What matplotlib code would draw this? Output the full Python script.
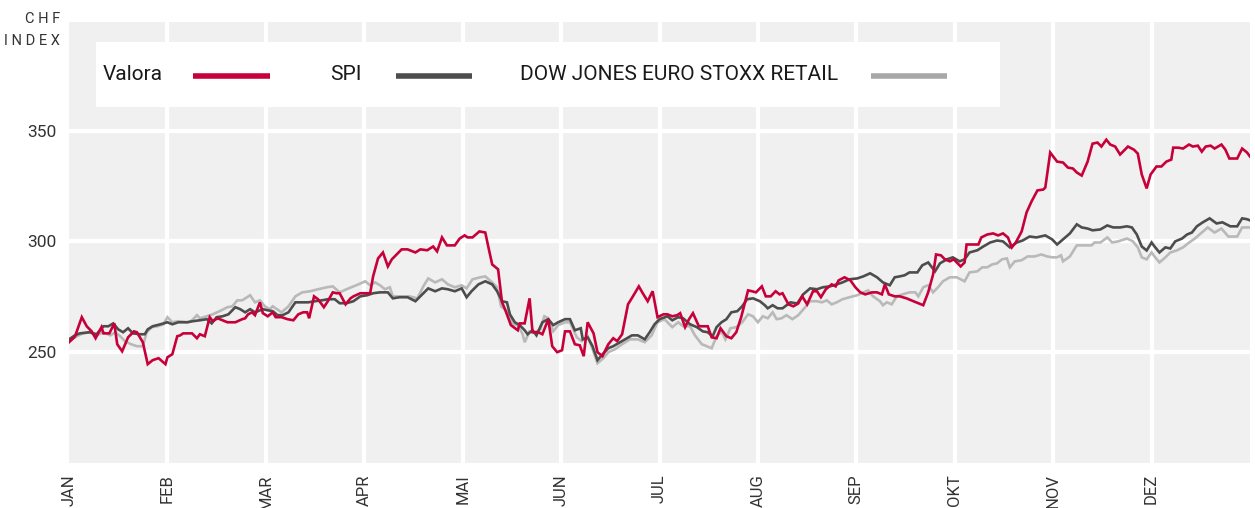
import numpy as np
import matplotlib
matplotlib.use("Agg")
import matplotlib.pyplot as plt
from matplotlib.patches import Rectangle
from matplotlib.lines import Line2D

plt.rcParams['font.family'] = ['Roboto', 'DejaVu Sans']

months = ['JAN', 'FEB', 'MAR', 'APR', 'MAI', 'JUN', 'JUL', 'AUG', 'SEP', 'OKT', 'NOV', 'DEZ']

# Valora (Position in Monaten ab 1. Januar, Indexwert)
valora_t = [0.00, 0.06, 0.13, 0.18, 0.23, 0.27, 0.33, 0.35, 0.41, 0.46, 0.49, 0.54, 0.60, 0.66, 0.69,
            0.75, 0.80, 0.85, 0.91, 0.98, 1.00, 1.05, 1.10, 1.13, 1.16, 1.25, 1.30, 1.33, 1.38, 1.43,
            1.46, 1.51, 1.61, 1.69, 1.76, 1.79, 1.82, 1.86, 1.89, 1.94, 1.97, 2.02, 2.07, 2.10, 2.16,
            2.22, 2.28, 2.33, 2.38, 2.42, 2.44, 2.49, 2.53, 2.59, 2.63, 2.68, 2.72, 2.75, 2.81, 2.86,
            2.89, 2.96, 3.06, 3.09, 3.14, 3.19, 3.24, 3.28, 3.38, 3.44, 3.52, 3.57, 3.64, 3.70, 3.74,
            3.79, 3.84, 3.92, 3.97, 4.02, 4.05, 4.10, 4.17, 4.23, 4.26, 4.30, 4.36, 4.40, 4.43, 4.49,
            4.56, 4.58, 4.63, 4.68, 4.71, 4.77, 4.81, 4.87, 4.91, 4.96, 5.01, 5.04, 5.09, 5.14, 5.19,
            5.23, 5.27, 5.33, 5.37, 5.42, 5.48, 5.53, 5.57, 5.62, 5.68, 5.73, 5.79, 5.83, 5.88, 5.93,
            5.98, 6.04, 6.08, 6.13, 6.18, 6.21, 6.26, 6.30, 6.34, 6.40, 6.49, 6.53, 6.58, 6.62, 6.68,
            6.73, 6.78, 6.83, 6.90, 6.94, 6.98, 7.04, 7.08, 7.13, 7.18, 7.22, 7.25, 7.31, 7.36, 7.41,
            7.45, 7.50, 7.56, 7.60, 7.64, 7.69, 7.75, 7.79, 7.82, 7.88, 7.94, 7.99, 8.04, 8.09, 8.16,
            8.21, 8.26, 8.29, 8.33, 8.39, 8.44, 8.51, 8.58, 8.68, 8.73, 8.78, 8.81, 8.86, 8.90, 8.95,
            8.99, 9.03, 9.06, 9.10, 9.12, 9.24, 9.27, 9.33, 9.39, 9.44, 9.49, 9.54, 9.58, 9.62, 9.68,
            9.73, 9.78, 9.84, 9.90, 9.92, 9.97, 10.04, 10.10, 10.15, 10.20, 10.24, 10.29, 10.35, 10.40,
            10.45, 10.49, 10.54, 10.58, 10.63, 10.68, 10.76, 10.82, 10.86, 10.90, 10.95, 10.99, 11.05,
            11.10, 11.15, 11.20, 11.22, 11.27, 11.32, 11.38, 11.42, 11.47, 11.51, 11.55, 11.60, 11.64,
            11.71, 11.75, 11.79, 11.87, 11.92, 11.97, 12.00]
valora_v = [254.5, 257.0, 265.8, 261.7, 259.4, 256.3, 261.3, 258.5, 258.5, 263.0, 253.6, 250.4, 256.7, 259.4, 259.0,
            254.5, 244.6, 246.4, 247.3, 244.6, 247.7, 249.1, 257.2, 257.6, 258.5, 258.5, 256.3, 258.1, 257.2, 265.8,
            264.0, 265.3, 263.5, 263.5, 264.9, 265.3, 267.1, 268.0, 266.7, 272.5, 267.6, 266.2, 268.0, 265.8, 265.8,
            264.9, 264.4, 267.1, 268.0, 268.0, 265.3, 275.2, 273.9, 270.3, 273.0, 277.0, 276.6, 276.6, 271.6, 274.3,
            275.2, 276.6, 276.6, 284.2, 292.3, 295.0, 288.7, 291.9, 296.4, 296.4, 295.0, 296.4, 296.0, 297.7, 295.5,
            301.8, 298.2, 298.2, 301.3, 302.7, 301.8, 301.8, 304.5, 304.0, 297.7, 289.6, 287.4, 272.5, 269.4, 262.2,
            259.9, 263.0, 263.0, 274.3, 259.0, 259.0, 258.1, 264.9, 252.7, 250.0, 250.9, 259.4, 259.4, 253.6, 253.1,
            248.2, 263.5, 258.5, 250.0, 248.2, 253.6, 256.3, 255.0, 258.1, 271.6, 275.2, 279.7, 276.6, 273.0, 277.5,
            265.8, 267.1, 267.1, 266.2, 266.7, 267.6, 261.3, 264.9, 267.6, 261.7, 261.7, 256.7, 256.3, 260.8, 257.2,
            256.3, 259.0, 265.8, 277.9, 277.5, 277.0, 279.7, 275.2, 275.2, 277.5, 276.1, 276.6, 271.6, 270.7, 272.0,
            275.2, 271.6, 277.5, 277.5, 274.8, 278.4, 280.6, 279.7, 282.4, 283.8, 282.4, 279.3, 277.0, 276.1, 277.0,
            277.0, 276.1, 280.6, 276.1, 275.2, 275.2, 274.3, 273.0, 271.2, 277.0, 285.1, 294.1, 293.7, 291.9, 291.0,
            291.9, 290.1, 288.7, 290.5, 298.6, 298.6, 301.8, 303.1, 303.6, 302.7, 303.6, 301.8, 297.3, 299.5, 304.5,
            313.1, 318.0, 323.0, 323.4, 324.3, 340.1, 336.0, 335.6, 333.3, 332.9, 331.1, 329.7, 336.0, 344.1,
            344.6, 342.8, 345.9, 343.7, 342.8, 339.2, 342.8, 341.4, 339.6, 330.2, 323.9, 330.2, 333.8,
            333.8, 336.0, 336.9, 342.3, 342.3, 341.9, 343.7, 342.8, 343.2, 340.5, 342.8, 343.2, 341.9,
            343.7, 341.4, 337.4, 337.4, 341.9, 340.1, 338.3]

# SPI
spi_t = [0.00, 0.06, 0.11, 0.21, 0.28, 0.35, 0.40, 0.45, 0.50, 0.55, 0.60, 0.65, 0.72, 0.77, 0.80,
         0.85, 0.93, 1.00, 1.05, 1.11, 1.20, 1.26, 1.33, 1.40, 1.45, 1.50, 1.56, 1.62, 1.69, 1.74,
         1.79, 1.84, 1.89, 1.94, 1.97, 2.02, 2.07, 2.12, 2.17, 2.23, 2.30, 2.37, 2.43, 2.50, 2.57,
         2.63, 2.70, 2.75, 2.82, 2.89, 2.96, 3.03, 3.09, 3.16, 3.24, 3.29, 3.36, 3.44, 3.52, 3.59,
         3.65, 3.72, 3.79, 3.85, 3.92, 3.99, 4.04, 4.09, 4.16, 4.23, 4.30, 4.35, 4.40, 4.45, 4.48,
         4.53, 4.58, 4.63, 4.66, 4.71, 4.75, 4.81, 4.87, 4.92, 4.97, 5.04, 5.09, 5.14, 5.20, 5.22,
         5.27, 5.32, 5.37, 5.43, 5.48, 5.53, 5.60, 5.67, 5.72, 5.78, 5.85, 5.90, 5.95, 6.00, 6.08,
         6.13, 6.19, 6.24, 6.31, 6.38, 6.44, 6.49, 6.54, 6.58, 6.63, 6.68, 6.73, 6.79, 6.84, 6.89,
         6.95, 7.02, 7.07, 7.10, 7.15, 7.20, 7.25, 7.33, 7.40, 7.46, 7.53, 7.60, 7.66, 7.73, 7.80,
         7.86, 7.93, 8.01, 8.07, 8.14, 8.21, 8.27, 8.34, 8.39, 8.44, 8.49, 8.54, 8.62, 8.67, 8.73,
         8.80, 8.85, 8.92, 8.98, 9.05, 9.10, 9.15, 9.23, 9.29, 9.36, 9.43, 9.49, 9.56, 9.63, 9.69,
         9.76, 9.83, 9.92, 9.99, 10.04, 10.10, 10.17, 10.24, 10.29, 10.35, 10.40, 10.48, 10.55, 10.61,
         10.68, 10.75, 10.80, 10.85, 10.90, 10.95, 11.00, 11.03, 11.08, 11.14, 11.19, 11.24, 11.31,
         11.36, 11.41, 11.46, 11.52, 11.59, 11.66, 11.72, 11.80, 11.87, 11.92, 11.97, 12.00]
spi_v = [255.8, 257.6, 258.5, 259.0, 258.1, 261.7, 261.7, 263.0, 260.3, 259.0, 260.8, 258.5, 258.1, 258.1, 260.3,
         261.7, 262.6, 263.5, 262.6, 263.5, 263.5, 264.0, 264.4, 264.9, 263.0, 265.8, 266.2, 267.1, 270.3, 269.4,
         268.0, 269.4, 268.0, 268.9, 269.4, 268.9, 268.5, 266.7, 266.7, 268.0, 272.5, 272.5, 272.5, 273.0, 273.4,
         273.9, 273.9, 272.1, 272.1, 273.0, 275.2, 275.7, 276.6, 277.0, 277.0, 274.3, 274.8, 274.8, 273.0, 276.1,
         278.8, 277.5, 278.8, 278.4, 277.5, 278.8, 274.8, 277.5, 280.6, 282.0, 280.6, 277.5, 273.0, 272.5, 267.1,
         263.5, 262.2, 259.9, 258.1, 259.9, 257.6, 263.5, 264.9, 262.2, 263.5, 264.9, 264.9, 259.9, 260.8, 255.8,
         256.7, 252.7, 246.4, 249.5, 251.8, 252.7, 254.5, 256.3, 257.6, 257.6, 255.8, 259.0, 262.6, 264.9, 266.2,
         264.4, 265.8, 265.3, 262.6, 261.3, 259.4, 259.0, 257.2, 261.3, 263.5, 264.9, 268.0, 268.5, 270.7, 273.9,
         274.3, 273.0, 271.2, 269.8, 271.2, 269.8, 269.8, 272.5, 272.0, 276.1, 278.8, 278.4, 279.3, 279.7, 280.6,
         281.5, 282.9, 283.3, 284.2, 285.6, 283.8, 281.5, 280.2, 283.8, 284.2, 284.7, 286.0, 286.0, 289.2, 290.5,
         286.5, 290.1, 291.9, 292.8, 291.0, 291.9, 295.0, 296.0, 297.7, 299.5, 300.4, 300.0, 297.3, 299.5, 300.4,
         302.2, 301.8, 302.7, 300.9, 298.6, 300.9, 303.6, 307.7, 306.3, 305.8, 305.0, 305.4, 307.2, 306.3,
         306.3, 306.8, 306.3, 303.1, 297.7, 295.9, 299.5, 297.7, 295.0, 297.3, 296.8, 300.0, 301.3,
         303.1, 304.0, 306.8, 308.6, 310.4, 308.1, 308.6, 306.8, 306.8, 310.4, 310.0, 309.5]

# DOW JONES EURO STOXX RETAIL
djes_t = [0.00, 0.06, 0.14, 0.21, 0.28, 0.35, 0.42, 0.47, 0.52, 0.57, 0.63, 0.69, 0.75, 0.79, 0.84,
          0.90, 0.96, 1.00, 1.05, 1.11, 1.21, 1.25, 1.30, 1.33, 1.40, 1.46, 1.53, 1.61, 1.66, 1.71,
          1.76, 1.84, 1.89, 1.94, 1.99, 2.04, 2.07, 2.16, 2.23, 2.30, 2.37, 2.45, 2.53, 2.62, 2.68,
          2.75, 2.82, 2.89, 2.94, 3.01, 3.06, 3.11, 3.16, 3.21, 3.26, 3.29, 3.38, 3.46, 3.54, 3.60,
          3.65, 3.72, 3.79, 3.85, 3.92, 3.99, 4.04, 4.10, 4.18, 4.23, 4.30, 4.35, 4.39, 4.45, 4.51,
          4.56, 4.61, 4.63, 4.68, 4.73, 4.79, 4.83, 4.87, 4.92, 4.97, 5.04, 5.09, 5.16, 5.21, 5.27,
          5.32, 5.37, 5.43, 5.48, 5.55, 5.62, 5.70, 5.78, 5.85, 5.92, 5.98, 6.05, 6.13, 6.19, 6.24,
          6.31, 6.36, 6.43, 6.48, 6.53, 6.58, 6.63, 6.67, 6.72, 6.78, 6.84, 6.90, 6.95, 7.00, 7.05,
          7.10, 7.15, 7.19, 7.24, 7.29, 7.35, 7.41, 7.48, 7.53, 7.60, 7.65, 7.70, 7.75, 7.80, 7.86,
          7.93, 8.01, 8.07, 8.12, 8.17, 8.24, 8.27, 8.31, 8.36, 8.41, 8.47, 8.54, 8.60, 8.63, 8.68,
          8.73, 8.78, 8.83, 8.88, 8.95, 9.02, 9.10, 9.15, 9.23, 9.28, 9.33, 9.38, 9.43, 9.48, 9.53,
          9.56, 9.61, 9.68, 9.74, 9.81, 9.88, 9.94, 9.99, 10.04, 10.08, 10.10, 10.17, 10.24, 10.30,
          10.39, 10.42, 10.48, 10.55, 10.60, 10.66, 10.75, 10.81, 10.86, 10.90, 10.95, 11.00, 11.03,
          11.08, 11.14, 11.19, 11.26, 11.32, 11.37, 11.44, 11.51, 11.57, 11.64, 11.71, 11.78, 11.87,
          11.92, 12.00]
djes_v = [255.0, 256.7, 258.5, 259.0, 257.6, 259.0, 257.6, 259.0, 257.2, 254.9, 253.6, 252.7, 252.7, 259.0, 261.3,
          261.7, 262.6, 265.8, 263.5, 264.0, 263.5, 264.4, 266.7, 265.3, 266.2, 267.1, 268.5, 270.3, 270.7, 273.4,
          273.4, 275.7, 272.5, 273.4, 270.7, 269.4, 270.7, 268.0, 270.7, 275.2, 277.0, 277.5, 278.4, 279.3, 279.7,
          277.0, 278.4, 279.7, 280.6, 282.0, 280.2, 281.5, 280.2, 278.4, 279.3, 275.2, 275.2, 275.2, 274.3, 279.7,
          283.3, 281.5, 282.9, 280.6, 279.3, 280.2, 278.8, 282.9, 283.8, 284.2, 281.5, 279.3, 270.7, 268.5, 262.6,
          262.2, 258.1, 254.5, 259.4, 259.0, 260.3, 266.2, 265.3, 259.4, 262.2, 263.5, 263.5, 256.7, 255.0, 257.2,
          251.4, 245.0, 247.3, 250.0, 251.4, 253.6, 255.8, 255.8, 254.5, 257.6, 263.5, 264.9, 261.3, 263.5, 261.7,
          261.7, 257.6, 253.6, 252.7, 251.8, 257.2, 259.4, 255.8, 260.8, 261.3, 263.5, 267.1, 266.2, 263.5, 266.2,
          265.3, 268.0, 264.9, 265.3, 266.7, 264.9, 266.7, 270.3, 273.0, 273.0, 272.5, 273.4, 271.6, 272.5, 273.9,
          274.8, 275.7, 277.0, 277.9, 275.2, 273.0, 271.2, 272.5, 271.6, 275.2, 276.1, 277.0, 277.0, 275.2, 279.3,
          280.2, 277.0, 279.3, 282.0, 283.8, 283.8, 282.0, 286.0, 286.5, 288.3, 288.3, 289.6, 290.1, 291.9, 292.3,
          288.3, 291.0, 291.5, 293.2, 293.2, 294.1, 293.2, 292.8, 292.8, 293.7, 291.0, 293.2, 298.2, 298.2,
          298.2, 299.5, 299.5, 301.8, 299.5, 300.0, 301.3, 300.0, 297.3, 292.8, 291.9, 295.0, 293.2,
          290.5, 292.8, 295.0, 296.0, 297.3, 299.1, 301.3, 304.0, 306.3, 304.0, 305.8, 302.2, 302.2,
          306.3, 306.3]

series = [
    ('Valora', valora_t, valora_v, '#c8003a', 3),
    ('SPI', spi_t, spi_v, '#4d4d4d', 2),
    ('DOW JONES EURO STOXX RETAIL', djes_t, djes_v, '#b9b9b9', 1),
]
legend_colors = ['#c8003a', '#4d4d4d', '#a8a8a8']

fig = plt.figure(figsize=(12.55, 5.08), dpi=100)
ax = fig.add_axes([69 / 1255, 45 / 508, 1181 / 1255, 441 / 508])
ax.set_facecolor('#f0f0f0')

for name, t, v, col, z in series:
    ax.plot(t, v, color=col, lw=1.9, zorder=z, solid_joinstyle='miter')

ax.set_xlim(0, 12)
ax.set_ylim(200, 399)
ax.set_yticks([250, 300, 350])
ax.set_xticks(np.arange(12))
ax.set_xticklabels(months, rotation=90, ha='center', va='top')
for x in range(1, 12):
    ax.axvline(x, color='white', lw=3, zorder=0.5)
for y in [250, 300, 350]:
    ax.axhline(y, color='white', lw=3, zorder=0.5)

ax.tick_params(axis='both', length=0, labelcolor='#333333')
ax.tick_params(axis='y', pad=9, labelsize=12.5)
ax.tick_params(axis='x', pad=8, labelsize=12)
for s in ax.spines.values():
    s.set_visible(False)

# Legende (weisses Feld oben links)
ax.add_patch(Rectangle((27 / 1181, 356 / 441), 904 / 1181, 65 / 441, transform=ax.transAxes,
                       facecolor='white', edgecolor='none', zorder=5))
text_x = [103, 330, 520]
line_x = [(193, 270), (396, 472), (871, 947)]
for i, (name, t, v, col, z) in enumerate(series):
    ax.text((text_x[i] - 69) / 1181, (463 - 75) / 441, name, transform=ax.transAxes,
            ha='left', va='center', fontsize=15, color='#1a1a1a', zorder=6)
    x0, x1 = line_x[i]
    ax.add_line(Line2D([(x0 - 69) / 1181, (x1 - 69) / 1181], [(463 - 76) / 441] * 2,
                       transform=ax.transAxes, color=legend_colors[i], lw=4, zorder=6,
                       solid_capstyle='butt'))

fig.text(60 / 1255, 1 - 30 / 508, 'C H F\nI N D E X', ha='right', va='center',
         fontsize=10.5, color='#333333', linespacing=1.7, multialignment='right')

fig.savefig('out.png', dpi=100)
